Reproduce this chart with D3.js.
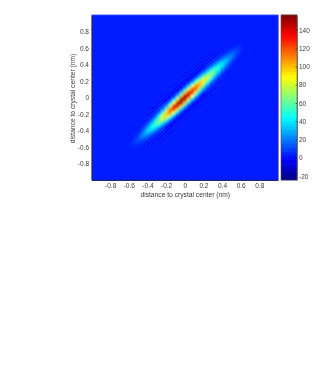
<!DOCTYPE html>
<html><head><meta charset="utf-8">
<script src="https://cdn.jsdelivr.net/npm/d3@7"></script>
<style>
html,body{margin:0;padding:0;background:#fff;overflow:hidden}
text{font-family:"Liberation Sans",Arial,sans-serif;fill:#000;opacity:.8}
</style></head><body>
<svg id="c" width="327" height="374"></svg>
<script>
// Values along the diagonal, sampled every 0.04 nm from -0.64 to 0.64
const ridgePositions = [-0.64,-0.60,-0.56,-0.52,-0.48,-0.44,-0.40,-0.36,-0.32,-0.28,-0.24,-0.20,-0.16,-0.12,-0.08,-0.04,0,0.04,0.08,0.12,0.16,0.20,0.24,0.28,0.32,0.36,0.40,0.44,0.48,0.52,0.56,0.60,0.64];
const ridge0 = [1,3,7,12,19,28,38,46,56,68,84,102,120,138,152,158,156,148,136,122,108,95,83,72,62,52,42,33,25,18,12,6,2];
const ridge1 = [1,3,5,9,15,23,33,41,51,62,78,94,110,126,140,148,146,137,124,111,97,85,74,64,55,46,37,29,22,16,10,5,2];
const ridge2 = [0,2,3,6,9,14,20,27,34,43,54,66,78,88,97,103,103,97,89,79,69,60,51,44,37,31,25,19,14,10,6,3,1];
const ridge3 = [0,1,1,2,4,7,10,13,17,22,28,34,40,45,50,54,55,52,47,42,37,32,27,23,19,16,13,10,7,4,2,1,0];
const ridge4 = [0,0,0,1,1,2,3,4,6,8,10,12,14,15,17,18,19,18,16,14,13,11,10,8,7,6,5,4,2,1,1,0,0];
const ridge5 = [0,0,0,0,0,0,0,1,1,0,0,-1,-1,-2,-3,-3,-3,-3,-2,-2,-1,-1,0,0,1,1,0,0,0,0,0,0,0];
const ridgeRows = [ridge0,ridge1,ridge2,ridge3,ridge4,ridge5];
const background = 3;

// Faint interference fringes beside the main lobe
const fringeOffsets = [0.135,0.155,0.175,0.195,0.215,0.235,0.255,0.275,0.295,0.315];
const fringeValues  = [-3,8,-2,7,-1,6,0,5,1,5];
const fringeStarts  = [-0.44,-0.42,-0.40,-0.38,-0.36,-0.34,-0.32,-0.30,-0.28,-0.26];
const fringeEnds    = [0.42,0.40,0.38,0.36,0.34,0.32,0.30,0.28,0.26,0.24];

const axisTicks = [-0.8,-0.6,-0.4,-0.2,0,0.2,0.4,0.6,0.8];
const colorTicks = [-20,0,20,40,60,80,100,120,140];
const colorDomain = [-24.4,156.4];
const axisLabel = "distance to crystal center (nm)";

const jetStops = ["#00007f","#0000ff","#007fff","#00ffff","#7fff7f","#ffff00","#ff7f00","#ff0000","#7f0000"];
const jet = d3.scaleLinear().domain(d3.range(jetStops.length).map(i=>i/(jetStops.length-1))).range(jetStops).interpolate(d3.interpolateRgb);
const frac = d3.scaleLinear().domain(colorDomain).range([0,1]).clamp(true);
const color = v => jet(frac(v));
const plain = d => String(d);

const svg = d3.select("#c");
const P = {l:91.5,r:278,t:15,b:180};
const x = d3.scaleLinear().domain([-1,1]).range([P.l,P.r]);
const y = d3.scaleLinear().domain([-1,1]).range([P.b,P.t]);
const defs = svg.append("defs");
defs.append("clipPath").attr("id","clip").append("rect").attr("x",P.l).attr("y",P.t).attr("width",P.r-P.l).attr("height",P.b-P.t);
const blur = (id,s)=>defs.append("filter").attr("id",id).attr("filterUnits","userSpaceOnUse")
  .attr("x",P.l).attr("y",P.t).attr("width",P.r-P.l).attr("height",P.b-P.t)
  .append("feGaussianBlur").attr("stdDeviation",s);
blur("soft",1.1); blur("soft2",0.6);

const plot = svg.append("g").attr("clip-path","url(#clip)");
plot.append("rect").attr("x",P.l).attr("y",P.t).attr("width",P.r-P.l).attr("height",P.b-P.t).attr("fill",color(background));

// fringes
const fringes = [];
fringeOffsets.forEach((o,i)=>[1,-1].forEach(sign=>fringes.push({o:o*sign,v:fringeValues[i],a:fringeStarts[i],b:fringeEnds[i]})));
plot.append("g").attr("filter","url(#soft2)").selectAll("line").data(fringes).join("line")
  .attr("x1",d=>x(d.a)).attr("y1",d=>y(d.a+d.o)).attr("x2",d=>x(d.b)).attr("y2",d=>y(d.b+d.o))
  .attr("stroke",d=>color(d.v)).attr("stroke-width",1.2);

// lobe cells
const rowStep = 0.032;
const cells = [];
ridgeRows.forEach((row,k)=>{
  (k===0?[0]:[k,-k]).forEach(off=>{
    row.forEach((v,i)=>cells.push({cx:ridgePositions[i],cy:ridgePositions[i]+off*rowStep,v}));
  });
});
const cw = x(0.04)-x(0), ch = y(0)-y(0.04);
plot.append("g").attr("filter","url(#soft)").selectAll("rect").data(cells.filter(d=>d.v>background||d.v<0)).join("rect")
  .attr("x",d=>x(d.cx)-cw/2).attr("y",d=>y(d.cy)-ch/2).attr("width",cw+0.4).attr("height",ch+0.4).attr("fill",d=>color(d.v));

// frame
svg.append("line").attr("x1",P.l).attr("x2",P.r).attr("y1",P.t).attr("y2",P.t).attr("stroke","#3a55ff").attr("stroke-width",1);
svg.append("line").attr("x1",P.r+0.5).attr("x2",P.r+0.5).attr("y1",P.t).attr("y2",P.b).attr("stroke","#8a8a8a").attr("stroke-width",1);

const xAxis = svg.append("g").attr("transform",`translate(0,${P.b})`).call(d3.axisBottom(x).tickValues(axisTicks).tickFormat(plain).tickSizeInner(0).tickSizeOuter(0).tickPadding(3.5));
const yAxis = svg.append("g").attr("transform",`translate(${P.l},0)`).call(d3.axisLeft(y).tickValues(axisTicks).tickFormat(plain).tickSizeInner(0).tickSizeOuter(0).tickPadding(2.5));
[xAxis,yAxis].forEach(a=>{a.attr("font-family",null);a.selectAll("text").attr("font-size",6.5);a.select(".domain").attr("stroke","#1c2a66").attr("stroke-width",1);});

svg.append("text").attr("x",x(0)+0.5).attr("y",197).attr("text-anchor","middle").attr("font-size",6.7).text(axisLabel);
svg.append("text").attr("transform",`translate(74.5,${y(0)+1}) rotate(-90)`).attr("text-anchor","middle").attr("font-size",6.7).text(axisLabel);

// colour bar
const cb = {l:281,r:297};
const cy = d3.scaleLinear().domain(colorDomain).range([P.b,P.t]);
const steps = d3.range(64).map(i=>colorDomain[0]+(colorDomain[1]-colorDomain[0])*i/64);
const stepH = (P.b-P.t)/64;
svg.append("g").selectAll("rect").data(steps).join("rect")
  .attr("x",cb.l).attr("width",cb.r-cb.l).attr("y",d=>cy(d)-stepH-0.3).attr("height",stepH+0.6)
  .attr("fill",d=>color(d+(colorDomain[1]-colorDomain[0])/128));
svg.append("rect").attr("x",cb.l).attr("y",P.t).attr("width",cb.r-cb.l).attr("height",P.b-P.t).attr("fill","none").attr("stroke","#555").attr("stroke-width",0.6);
const cAxis = svg.append("g").attr("transform",`translate(${cb.r},0)`).call(d3.axisRight(cy).tickValues(colorTicks).tickFormat(plain).tickSizeInner(-1.5).tickSizeOuter(0).tickPadding(2));
cAxis.attr("font-family",null);
cAxis.selectAll("text").attr("font-size",6.5);
cAxis.select(".domain").attr("stroke","#333").attr("stroke-width",0.6);
cAxis.selectAll(".tick line").attr("stroke","#222").attr("stroke-width",0.6);
</script>
</body></html>
